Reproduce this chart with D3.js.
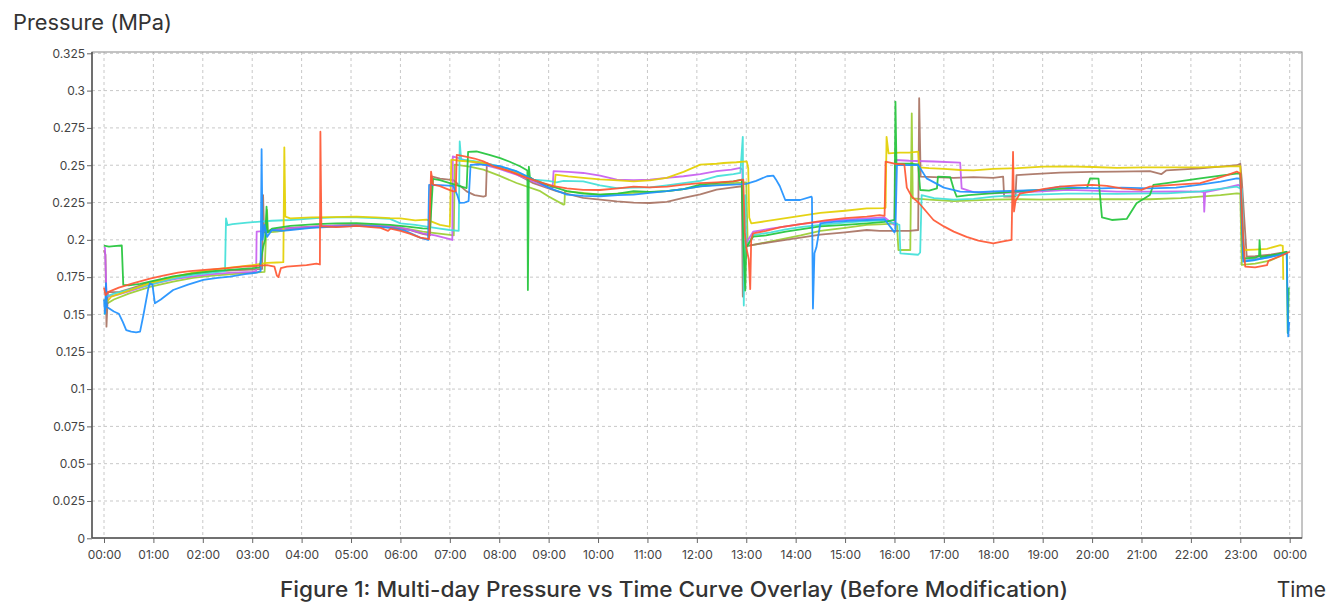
<!DOCTYPE html>
<html>
<head>
<meta charset="utf-8">
<script src="https://cdn.jsdelivr.net/npm/d3@7"></script>
<style>
  html, body { margin: 0; padding: 0; background: #fff; }
  svg { display: block; font-family: Inter, "Noto Sans", sans-serif; }
</style>
</head>
<body>
<div id="chart"></div>
<script>
/**
 * Chart data: [hour of day, pressure MPa].
 */
const yTicks = [0, 0.025, 0.05, 0.075, 0.1, 0.125, 0.15, 0.175, 0.2, 0.225, 0.25, 0.275, 0.3, 0.325];
const xTicks = d3.range(0, 25);
const xTickLabels = ["00:00","01:00","02:00","03:00","04:00","05:00","06:00","07:00","08:00","09:00","10:00","11:00","12:00",
  "13:00","14:00","15:00","16:00","17:00","18:00","19:00","20:00","21:00","22:00","23:00","00:00"];

const yellowgreen = [[0.0,0.1580],[0.05,0.1570],[0.2,0.1600],[0.5,0.1640],[0.93,0.1685],[1.4,0.1720],[1.8,0.1745],[2.2,0.1760],[2.6,0.1770],[3.0,0.1780],[3.25,0.1785],[3.3,0.2200],[3.32,0.2050],[3.5,0.2055],[3.77,0.2070],[4.3,0.2085],[4.7,0.2095],[5.11,0.2099],[5.5,0.2095],[5.9,0.2085],[6.2,0.2070],[6.45,0.2055],[6.7,0.2045],[7.0,0.2033],[7.08,0.2030],[7.1,0.2504],[7.4,0.2490],[7.68,0.2470],[8.0,0.2430],[8.35,0.2381],[8.83,0.2326],[9.0,0.2290],[9.3,0.2236],[9.32,0.2238],[9.33,0.2326],[9.7,0.2315],[10.04,0.2303],[10.38,0.2310],[10.72,0.2315],[11.05,0.2320],[11.39,0.2326],[11.73,0.2340],[12.07,0.2359],[12.4,0.2370],[12.74,0.2380],[13.0,0.2385],[13.03,0.1960],[13.14,0.1966],[13.5,0.1990],[13.8,0.2010],[14.1,0.2030],[14.5,0.2060],[15.0,0.2080],[15.44,0.2100],[15.8,0.2105],[16.05,0.2110],[16.08,0.1932],[16.32,0.1932],[16.35,0.2848],[16.37,0.2278],[16.7,0.2270],[17.2,0.2260],[17.6,0.2265],[18.0,0.2270],[18.5,0.2272],[19.0,0.2270],[19.5,0.2272],[20.0,0.2272],[20.5,0.2272],[21.17,0.2272],[21.8,0.2280],[22.19,0.2290],[22.6,0.2300],[22.93,0.2311],[23.0,0.2310],[23.03,0.1832],[23.3,0.1840],[23.6,0.1860],[23.94,0.1910]];

const brown = [[0.0,0.1930],[0.03,0.1900],[0.05,0.1418],[0.08,0.1650],[0.3,0.1650],[0.6,0.1680],[0.93,0.1715],[1.4,0.1750],[1.8,0.1770],[2.2,0.1785],[2.6,0.1795],[3.0,0.1800],[3.2,0.1805],[3.22,0.2300],[3.24,0.2050],[3.4,0.2065],[3.77,0.2080],[4.3,0.2090],[4.7,0.2095],[5.11,0.2099],[5.5,0.2090],[5.9,0.2080],[6.2,0.2065],[6.45,0.2040],[6.6,0.2030],[6.63,0.2426],[6.8,0.2410],[7.07,0.2400],[7.34,0.2325],[7.5,0.2300],[7.68,0.2290],[7.73,0.2295],[7.75,0.2515],[8.02,0.2482],[8.35,0.2440],[8.69,0.2380],[9.16,0.2326],[9.7,0.2281],[10.04,0.2270],[10.38,0.2258],[10.72,0.2250],[11.05,0.2247],[11.39,0.2255],[11.73,0.2281],[12.07,0.2305],[12.4,0.2337],[12.7,0.2350],[12.91,0.2359],[12.93,0.1620],[12.96,0.1956],[13.14,0.1966],[13.5,0.1985],[13.8,0.2000],[14.1,0.2015],[14.5,0.2035],[15.0,0.2050],[15.44,0.2066],[15.7,0.2060],[16.0,0.2060],[16.3,0.2060],[16.48,0.2066],[16.5,0.2949],[16.53,0.2423],[16.8,0.2420],[17.2,0.2415],[17.6,0.2420],[18.0,0.2415],[18.2,0.2423],[18.22,0.2289],[18.45,0.2289],[18.47,0.2434],[18.8,0.2440],[19.35,0.2450],[20.0,0.2455],[20.5,0.2457],[21.17,0.2460],[21.4,0.2440],[21.5,0.2465],[22.19,0.2479],[22.6,0.2490],[22.93,0.2500],[23.0,0.2510],[23.03,0.2400],[23.13,0.1887],[23.3,0.1890],[23.6,0.1900],[23.94,0.1920]];

const violet = [[0.0,0.1950],[0.02,0.1945],[0.05,0.1640],[0.1,0.1620],[0.3,0.1635],[0.6,0.1665],[0.93,0.1700],[1.4,0.1735],[1.8,0.1755],[2.2,0.1770],[2.6,0.1780],[3.0,0.1785],[3.08,0.1790],[3.09,0.2055],[3.3,0.2060],[3.6,0.2075],[4.1,0.2085],[4.6,0.2095],[5.11,0.2099],[5.5,0.2095],[5.9,0.2088],[6.2,0.2066],[6.45,0.2044],[6.7,0.2030],[7.0,0.2005],[7.05,0.1999],[7.06,0.2559],[7.3,0.2535],[7.68,0.2504],[8.0,0.2475],[8.35,0.2437],[8.7,0.2390],[9.03,0.2347],[9.08,0.2350],[9.1,0.2460],[9.4,0.2455],[9.7,0.2448],[10.04,0.2430],[10.38,0.2404],[10.72,0.2400],[11.05,0.2404],[11.39,0.2415],[11.73,0.2426],[12.07,0.2440],[12.4,0.2460],[12.7,0.2470],[12.88,0.2482],[12.92,0.2470],[12.95,0.2000],[13.0,0.1980],[13.14,0.2055],[13.5,0.2075],[13.8,0.2090],[14.1,0.2105],[14.5,0.2120],[15.0,0.2135],[15.44,0.2144],[15.8,0.2150],[16.0,0.2100],[16.02,0.2535],[16.3,0.2530],[16.8,0.2525],[17.33,0.2517],[17.36,0.2345],[17.6,0.2320],[18.0,0.2312],[18.5,0.2318],[19.0,0.2325],[19.5,0.2335],[20.0,0.2330],[20.5,0.2323],[21.17,0.2323],[21.8,0.2325],[22.19,0.2323],[22.26,0.2320],[22.27,0.2189],[22.29,0.2320],[22.6,0.2340],[22.96,0.2368],[23.02,0.2350],[23.08,0.1860],[23.3,0.1870],[23.6,0.1890],[23.94,0.1910]];

const cyan = [[0.0,0.1500],[0.02,0.1510],[0.04,0.1620],[0.2,0.1640],[0.5,0.1665],[0.93,0.1700],[1.4,0.1740],[1.8,0.1765],[2.2,0.1780],[2.45,0.1790],[2.47,0.2144],[2.5,0.2099],[2.6,0.2105],[2.9,0.2115],[3.16,0.2122],[3.4,0.2128],[3.77,0.2133],[4.3,0.2145],[4.7,0.2150],[5.11,0.2150],[5.5,0.2145],[5.79,0.2140],[6.0,0.2110],[6.3,0.2100],[6.53,0.2088],[6.8,0.2075],[7.0,0.2066],[7.18,0.2060],[7.2,0.2659],[7.23,0.2537],[7.5,0.2528],[8.02,0.2493],[8.35,0.2460],[8.69,0.2404],[9.0,0.2395],[9.16,0.2385],[9.3,0.2395],[9.7,0.2392],[10.04,0.2365],[10.38,0.2347],[10.72,0.2350],[11.05,0.2352],[11.39,0.2365],[11.73,0.2380],[12.07,0.2395],[12.4,0.2426],[12.74,0.2440],[12.88,0.2448],[12.93,0.2690],[12.95,0.1560],[12.98,0.2300],[13.0,0.1950],[13.14,0.2032],[13.5,0.2050],[13.8,0.2070],[14.1,0.2085],[14.5,0.2100],[15.0,0.2115],[15.44,0.2125],[15.8,0.2130],[16.0,0.2110],[16.1,0.2100],[16.12,0.1909],[16.48,0.1900],[16.52,0.1915],[16.55,0.2300],[16.8,0.2280],[17.2,0.2270],[17.6,0.2275],[18.0,0.2290],[18.5,0.2300],[19.0,0.2305],[19.5,0.2310],[20.0,0.2310],[20.5,0.2308],[21.17,0.2311],[21.51,0.2311],[22.19,0.2325],[22.93,0.2356],[23.03,0.2340],[23.08,0.1860],[23.3,0.1865],[23.6,0.1885],[23.94,0.1920]];

const yellow = [[0.0,0.1600],[0.05,0.1580],[0.15,0.1620],[0.5,0.1660],[0.93,0.1710],[1.4,0.1750],[1.8,0.1780],[2.2,0.1800],[2.6,0.1815],[3.0,0.1830],[3.3,0.1845],[3.5,0.1848],[3.63,0.1850],[3.65,0.2620],[3.67,0.2156],[3.77,0.2144],[4.2,0.2150],[4.6,0.2152],[5.11,0.2155],[5.5,0.2150],[5.79,0.2145],[6.0,0.2144],[6.3,0.2130],[6.53,0.2135],[6.8,0.2100],[7.0,0.2088],[7.03,0.2537],[7.2,0.2530],[7.4,0.2525],[7.68,0.2515],[8.0,0.2480],[8.35,0.2448],[8.6,0.2415],[8.83,0.2381],[9.0,0.2365],[9.12,0.2360],[9.14,0.2437],[9.4,0.2425],[9.7,0.2415],[10.04,0.2405],[10.4,0.2398],[10.72,0.2392],[11.05,0.2398],[11.39,0.2415],[11.73,0.2455],[12.07,0.2504],[12.4,0.2510],[12.54,0.2515],[12.8,0.2520],[13.01,0.2526],[13.04,0.2480],[13.06,0.2150],[13.1,0.2111],[13.4,0.2125],[13.8,0.2145],[14.1,0.2160],[14.5,0.2180],[15.0,0.2195],[15.44,0.2211],[15.78,0.2213],[15.82,0.2215],[15.84,0.2690],[15.88,0.2580],[16.1,0.2585],[16.3,0.2585],[16.48,0.2591],[16.5,0.2486],[16.7,0.2480],[17.0,0.2475],[17.33,0.2468],[17.6,0.2465],[18.0,0.2475],[18.5,0.2480],[19.01,0.2490],[19.5,0.2492],[20.03,0.2488],[20.5,0.2482],[21.04,0.2485],[21.5,0.2486],[22.19,0.2486],[22.8,0.2492],[23.0,0.2493],[23.03,0.2000],[23.08,0.1932],[23.3,0.1935],[23.54,0.1940],[23.81,0.1964],[23.86,0.1960],[23.87,0.1732]];

const green = [[0.0,0.1961],[0.1,0.1955],[0.2,0.1958],[0.36,0.1962],[0.39,0.1698],[0.5,0.1695],[0.73,0.1705],[0.93,0.1720],[1.4,0.1755],[1.8,0.1775],[2.2,0.1790],[2.6,0.1800],[3.0,0.1810],[3.15,0.1815],[3.22,0.1950],[3.26,0.2000],[3.29,0.2222],[3.31,0.2050],[3.4,0.2075],[3.77,0.2093],[4.3,0.2105],[4.7,0.2110],[5.11,0.2111],[5.5,0.2105],[5.79,0.2100],[6.1,0.2090],[6.45,0.2077],[6.6,0.2075],[6.66,0.2408],[6.8,0.2400],[7.0,0.2380],[7.2,0.2360],[7.34,0.2347],[7.37,0.2590],[7.54,0.2592],[7.8,0.2570],[8.02,0.2548],[8.2,0.2525],[8.42,0.2493],[8.57,0.2465],[8.58,0.1664],[8.6,0.2490],[8.62,0.2420],[8.69,0.2404],[9.0,0.2365],[9.37,0.2326],[9.7,0.2310],[10.04,0.2303],[10.4,0.2310],[10.72,0.2326],[11.05,0.2322],[11.39,0.2326],[11.73,0.2340],[12.07,0.2370],[12.4,0.2380],[12.74,0.2392],[12.91,0.2403],[12.94,0.2000],[12.98,0.1660],[13.0,0.1950],[13.14,0.2021],[13.4,0.2030],[13.8,0.2055],[14.1,0.2070],[14.5,0.2090],[15.0,0.2100],[15.44,0.2111],[15.8,0.2120],[16.0,0.2133],[16.02,0.2926],[16.04,0.2513],[16.3,0.2510],[16.48,0.2505],[16.52,0.2334],[16.7,0.2330],[16.86,0.2345],[16.88,0.2423],[17.13,0.2420],[17.2,0.2340],[17.26,0.2289],[17.5,0.2300],[17.9,0.2310],[18.3,0.2320],[18.7,0.2330],[19.0,0.2335],[19.5,0.2345],[19.9,0.2350],[19.96,0.2412],[20.13,0.2410],[20.2,0.2150],[20.4,0.2133],[20.7,0.2140],[20.9,0.2245],[21.17,0.2300],[21.24,0.2368],[21.51,0.2380],[22.19,0.2412],[22.6,0.2430],[22.96,0.2446],[23.0,0.2440],[23.06,0.1876],[23.3,0.1880],[23.38,0.1890],[23.39,0.1998],[23.41,0.1885],[23.7,0.1900],[23.94,0.1920],[23.96,0.1375],[23.98,0.1680]];

const blue = [[0.0,0.1600],[0.02,0.1507],[0.04,0.1710],[0.06,0.1550],[0.2,0.1520],[0.3,0.1505],[0.38,0.1450],[0.45,0.1395],[0.55,0.1385],[0.65,0.1380],[0.73,0.1385],[0.8,0.1500],[0.9,0.1680],[0.93,0.1709],[0.98,0.1700],[1.03,0.1575],[1.15,0.1600],[1.4,0.1664],[1.7,0.1700],[2.01,0.1731],[2.3,0.1745],[2.55,0.1753],[2.85,0.1770],[3.09,0.1780],[3.17,0.1790],[3.19,0.2607],[3.21,0.2000],[3.25,0.2100],[3.3,0.2020],[3.4,0.2066],[3.6,0.2060],[3.77,0.2066],[4.2,0.2080],[4.7,0.2088],[5.11,0.2093],[5.5,0.2090],[5.79,0.2080],[6.1,0.2060],[6.4,0.2015],[6.56,0.1999],[6.58,0.2368],[6.8,0.2366],[7.07,0.2362],[7.15,0.2300],[7.2,0.2247],[7.3,0.2250],[7.38,0.2260],[7.42,0.2503],[7.6,0.2505],[8.02,0.2493],[8.35,0.2459],[8.69,0.2404],[9.0,0.2350],[9.37,0.2303],[9.7,0.2295],[10.04,0.2292],[10.4,0.2300],[10.72,0.2303],[11.05,0.2315],[11.39,0.2326],[11.73,0.2340],[12.07,0.2359],[12.4,0.2365],[12.74,0.2370],[13.0,0.2375],[13.2,0.2395],[13.42,0.2426],[13.55,0.2430],[13.6,0.2405],[13.68,0.2359],[13.79,0.2267],[14.09,0.2267],[14.32,0.2290],[14.33,0.2280],[14.35,0.1540],[14.38,0.1910],[14.42,0.1950],[14.5,0.2111],[14.77,0.2120],[15.1,0.2128],[15.44,0.2133],[15.8,0.2138],[16.0,0.2050],[16.02,0.2066],[16.05,0.2502],[16.3,0.2500],[16.48,0.2502],[16.65,0.2412],[17.0,0.2350],[17.33,0.2323],[17.7,0.2320],[18.0,0.2325],[18.5,0.2330],[19.01,0.2335],[19.35,0.2356],[19.7,0.2350],[20.2,0.2345],[20.6,0.2350],[21.17,0.2345],[21.7,0.2350],[22.19,0.2370],[22.6,0.2390],[22.93,0.2412],[23.0,0.2410],[23.06,0.1854],[23.3,0.1865],[23.6,0.1885],[23.94,0.1910],[23.97,0.1353],[23.99,0.1450]];

const red = [[0.0,0.1680],[0.03,0.1630],[0.08,0.1650],[0.3,0.1680],[0.6,0.1710],[0.93,0.1740],[1.2,0.1760],[1.5,0.1780],[1.74,0.1790],[2.1,0.1800],[2.5,0.1810],[2.8,0.1820],[3.09,0.1825],[3.3,0.1830],[3.45,0.1820],[3.5,0.1760],[3.53,0.1750],[3.58,0.1810],[3.7,0.1820],[3.9,0.1825],[4.1,0.1830],[4.3,0.1840],[4.37,0.1835],[4.38,0.2725],[4.40,0.2090],[4.7,0.2085],[5.0,0.2090],[5.11,0.2093],[5.4,0.2085],[5.6,0.2080],[5.75,0.2060],[5.8,0.2075],[6.0,0.2060],[6.2,0.2040],[6.4,0.2015],[6.5,0.2010],[6.58,0.2005],[6.62,0.2457],[6.66,0.2370],[6.8,0.2360],[6.95,0.2340],[7.07,0.2325],[7.12,0.2325],[7.14,0.2570],[7.3,0.2560],[7.5,0.2545],[7.68,0.2526],[7.9,0.2490],[8.22,0.2459],[8.4,0.2435],[8.56,0.2415],[8.75,0.2395],[8.89,0.2380],[9.1,0.2360],[9.37,0.2345],[9.7,0.2335],[10.04,0.2334],[10.4,0.2345],[10.72,0.2356],[11.05,0.2352],[11.4,0.2356],[11.73,0.2370],[12.07,0.2380],[12.4,0.2385],[12.74,0.2392],[12.94,0.2403],[12.97,0.2050],[13.0,0.1950],[13.05,0.1870],[13.08,0.1670],[13.1,0.2000],[13.14,0.2044],[13.4,0.2060],[13.7,0.2085],[14.0,0.2100],[14.3,0.2115],[14.6,0.2130],[15.0,0.2145],[15.44,0.2156],[15.7,0.2165],[15.8,0.2160],[15.82,0.2524],[16.0,0.2510],[16.2,0.2505],[16.25,0.2350],[16.35,0.2290],[16.5,0.2245],[16.79,0.2133],[17.0,0.2090],[17.2,0.2055],[17.46,0.2020],[17.7,0.1995],[18.0,0.1977],[18.2,0.1990],[18.37,0.2000],[18.40,0.2590],[18.42,0.2190],[18.45,0.2260],[18.54,0.2310],[18.8,0.2325],[19.0,0.2340],[19.35,0.2357],[19.7,0.2365],[20.0,0.2368],[20.3,0.2362],[20.6,0.2345],[21.0,0.2335],[21.17,0.2357],[21.5,0.2365],[21.8,0.2372],[22.19,0.2380],[22.5,0.2410],[22.75,0.2435],[22.93,0.2457],[23.0,0.2445],[23.06,0.2000],[23.1,0.1820],[23.3,0.1815],[23.54,0.1830],[23.57,0.1860],[23.8,0.1890],[24.0,0.1920]];

const seriesList = [
  { values: yellowgreen, color: "#9acd32" },
  { values: brown, color: "#a87363" },
  { values: violet, color: "#c75ef0" },
  { values: cyan, color: "#40e0d8" },
  { values: yellow, color: "#e3cf00" },
  { values: green, color: "#22c43a" },
  { values: blue, color: "#1e90ff" },
  { values: red, color: "#ff5733" },
];

/**
 * Layout.
 */
const width = 1329, height = 605;
const frame = { left: 92, right: 1302, top: 52, bottom: 538 };

const x = d3.scaleLinear().domain([0, 24]).range([104, 1289.7]);
const y = d3.scaleLinear().domain([0, 0.325]).range([538.3, 53.3]);

const svg = d3.select("#chart").append("svg")
  .attr("width", width)
  .attr("height", height)
  .style("background", "#fff");

svg.append("defs").append("clipPath")
  .attr("id", "plotclip")
  .append("rect")
    .attr("x", frame.left)
    .attr("y", frame.top)
    .attr("width", frame.right - frame.left)
    .attr("height", frame.bottom - frame.top);

// grid
const grid = svg.append("g").attr("class", "grid")
  .attr("stroke", "#c8c8c8")
  .attr("stroke-dasharray", "3,3");

grid.selectAll(".hgrid")
  .data(yTicks.filter(d => d > 0))
  .enter().append("line")
    .attr("x1", frame.left).attr("x2", frame.right)
    .attr("y1", d => y(d)).attr("y2", d => y(d));

grid.selectAll(".vgrid")
  .data(xTicks)
  .enter().append("line")
    .attr("x1", d => x(d)).attr("x2", d => x(d))
    .attr("y1", frame.top).attr("y2", frame.bottom);

// border
svg.append("rect")
  .attr("x", frame.left).attr("y", frame.top)
  .attr("width", frame.right - frame.left)
  .attr("height", frame.bottom - frame.top)
  .attr("fill", "none")
  .attr("stroke", "#8a8a8a");

// lines
const line = d3.line()
  .x(d => x(d[0]))
  .y(d => y(d[1]));

svg.append("g")
  .attr("clip-path", "url(#plotclip)")
  .selectAll("path")
  .data(seriesList)
  .enter().append("path")
    .attr("d", d => line(d.values))
    .attr("fill", "none")
    .attr("stroke", d => d.color)
    .attr("stroke-width", 1.8)
    .attr("stroke-linejoin", "round")
    .attr("opacity", 0.92);

// axes
const yAxis = d3.axisLeft(y)
  .tickValues(yTicks)
  .tickSize(5)
  .tickPadding(2)
  .tickFormat(d => String(+d.toFixed(3)));

const xAxis = d3.axisBottom(x)
  .tickValues(xTicks)
  .tickSize(5)
  .tickPadding(7)
  .tickFormat((d, i) => xTickLabels[i]);

const styleAxis = g => {
  g.select(".domain").remove();
  g.selectAll(".tick line").attr("stroke", "#666");
  g.selectAll(".tick text")
    .attr("fill", "#444")
    .style("font-size", "12px")
    .style("font-family", "Inter, 'Noto Sans', sans-serif");
};

svg.append("g")
  .attr("transform", `translate(${frame.left},0)`)
  .call(yAxis)
  .call(styleAxis);

svg.append("g")
  .attr("transform", `translate(0,${frame.bottom})`)
  .call(xAxis)
  .call(styleAxis);

svg.append("line")
  .attr("x1", frame.left).attr("x2", frame.left)
  .attr("y1", frame.top).attr("y2", frame.bottom)
  .attr("stroke", "#555").attr("stroke-width", 1.5);
svg.append("line")
  .attr("x1", frame.left).attr("x2", frame.right)
  .attr("y1", frame.bottom).attr("y2", frame.bottom)
  .attr("stroke", "#555").attr("stroke-width", 1.5);

// labels
svg.append("text")
  .attr("x", 13).attr("y", 30)
  .attr("fill", "#333")
  .attr("textLength", 159)
  .attr("lengthAdjust", "spacingAndGlyphs")
  .style("font-size", "21px")
  .text("Pressure (MPa)");

svg.append("text")
  .attr("x", 280).attr("y", 597)
  .attr("fill", "#333")
  .attr("textLength", 788)
  .attr("lengthAdjust", "spacingAndGlyphs")
  .style("font-size", "21px")
  .style("font-weight", 500)
  .text("Figure 1: Multi-day Pressure vs Time Curve Overlay (Before Modification)");

svg.append("text")
  .attr("x", 1326).attr("y", 597)
  .attr("text-anchor", "end")
  .attr("fill", "#333")
  .style("font-size", "21px")
  .text("Time");
</script>
</body>
</html>
